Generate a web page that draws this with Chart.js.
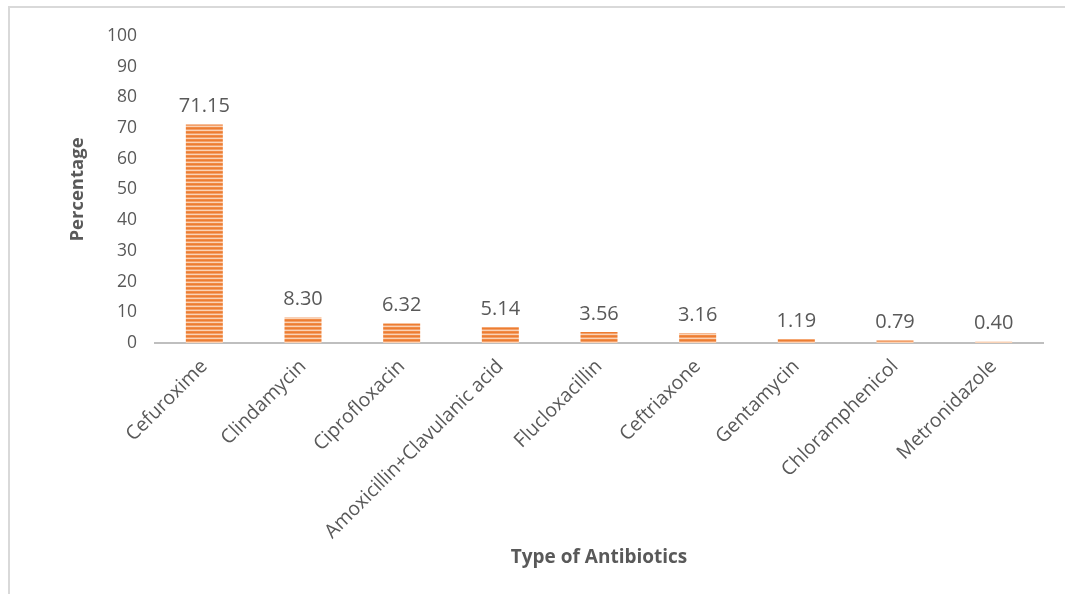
<!DOCTYPE html>
<html>
<head>
<meta charset="utf-8">
<script src="https://cdn.jsdelivr.net/npm/chart.js@4.4.0/dist/chart.umd.min.js"></script>
<style>
  html, body { margin: 0; padding: 0; background: #fff; }
  #wrap { position: absolute; left: 0; top: 0; width: 1065px; height: 594px; }
  #frame { position: absolute; left: 8px; top: 6px; width: 1070px; height: 600px;
           border-left: 2px solid #d9d9d9; border-top: 2px solid #d9d9d9; }
  canvas { position: absolute; left: 0; top: 0; }
</style>
</head>
<body>
<div id="wrap">
  <div id="frame"></div>
  <canvas id="c" width="1065" height="594"></canvas>
</div>
<script>
const categories = ["Cefuroxime", "Clindamycin", "Ciprofloxacin", "Amoxicillin+Clavulanic acid",
  "Flucloxacillin", "Ceftriaxone", "Gentamycin", "Chloramphenicol", "Metronidazole"];
const percentages = [71.15, 8.30, 6.32, 5.14, 3.56, 3.16, 1.19, 0.79, 0.40];
const yTicks = [0, 10, 20, 30, 40, 50, 60, 70, 80, 90, 100];

const FONT = "'Open Sans', 'DejaVu Sans', sans-serif";
const TXT = "#595959";

function stripePattern() {
  const p = document.createElement('canvas');
  p.width = 4; p.height = 4;
  const g = p.getContext('2d');
  const rows = ['#ED7D31', '#F3A06A', '#FAD3B6', '#F08A45'];
  rows.forEach((c, i) => { g.fillStyle = c; g.fillRect(0, i, 4, 1); });
  return document.getElementById('c').getContext('2d').createPattern(p, 'repeat');
}

const valueLabels = {
  id: 'valueLabels',
  afterDatasetsDraw(chart) {
    const ctx = chart.ctx;
    const meta = chart.getDatasetMeta(0);
    ctx.save();
    ctx.font = "20px " + FONT;
    ctx.fillStyle = TXT;
    ctx.textAlign = 'center';
    ctx.textBaseline = 'bottom';
    meta.data.forEach((bar, i) => {
      ctx.fillText(percentages[i].toFixed(2), bar.x, bar.y - 8);
    });
    ctx.restore();
  }
};

new Chart(document.getElementById('c'), {
  type: 'bar',
  data: {
    labels: categories,
    datasets: [{
      data: percentages,
      backgroundColor: stripePattern(),
      borderWidth: 0,
      categoryPercentage: 1.0,
      barPercentage: 0.375
    }]
  },
  options: {
    responsive: false,
    animation: false,
    devicePixelRatio: 1,
    layout: { padding: { left: 60, right: 22, top: 36, bottom: 20 } },
    plugins: { legend: { display: false }, tooltip: { enabled: false } },
    scales: {
      x: {
        grid: { display: false, drawTicks: false },
        border: { display: true, color: '#bfbfbf', width: 2 },
        ticks: {
          color: TXT, font: { family: FONT, size: 19.5 },
          minRotation: 45, maxRotation: 45, padding: 12, autoSkip: false
        },
        title: {
          display: true, text: 'Type of Antibiotics', color: TXT,
          font: { family: FONT, size: 19, weight: 'bold' },
          padding: { top: 0, bottom: 5 }
        },
        afterFit(scale) { scale.height = 231; }
      },
      y: {
        min: 0, max: 100,
        afterBuildTicks(scale) { scale.ticks = yTicks.map(v => ({ value: v })); },
        grid: { display: false, drawTicks: false },
        border: { display: false },
        ticks: { color: TXT, font: { family: FONT, size: 17.5 }, padding: 18 },
        title: {
          display: true, text: 'Percentage', color: TXT,
          font: { family: FONT, size: 18.5, weight: 'bold' },
          padding: { top: 7, bottom: 0 }
        },
        afterFit(scale) { scale.width = 95; }
      }
    }
  },
  plugins: [valueLabels]
});
</script>
</body>
</html>
